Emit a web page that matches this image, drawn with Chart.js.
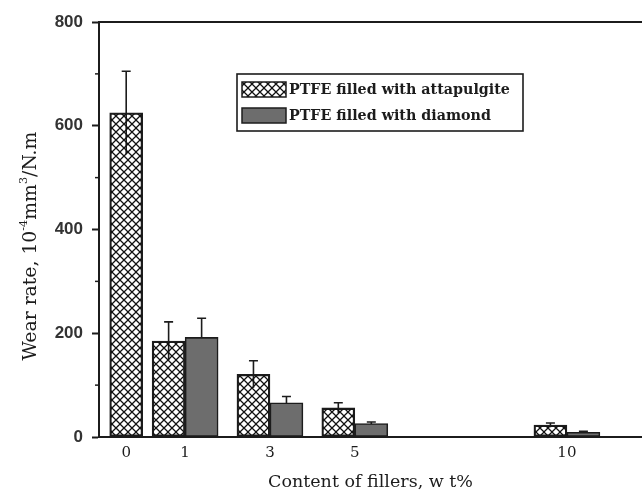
<!DOCTYPE html>
<html>
<head>
<meta charset="utf-8">
<script src="https://cdn.jsdelivr.net/npm/chart.js@4/dist/chart.umd.min.js"></script>
<style>
  html, body { margin: 0; padding: 0; background: #ffffff; }
  #wrap { width: 642px; height: 491px; }
</style>
</head>
<body>
<div id="wrap"><canvas id="c" width="642" height="491"></canvas></div>
<script>
// Filler content (wt%) and measured wear rates (10^-4 mm^3/N.m)
const categories = [0, 1, 3, 5, 10];
const xTickLabels = ['0', '1', '3', '5', '10'];
const attapulgiteWear = [625, 185, 121, 56, 23];
const attapulgiteErr = [80, 37, 26, 10, 4];
const diamondWear = [null, 192, 66, 26, 9];
const diamondErr = [null, 37, 12, 3, 2];
const yMajorTicks = [0, 200, 400, 600, 800];
const yMinorTicks = [100, 300, 500, 700];
const seriesLabels = ['PTFE filled with attapulgite', 'PTFE filled with diamond'];

const INK = '#1c1c1c';
const DIAMOND_GREY = '#6d6d6d';
const SERIF = '"DejaVu Serif", "Liberation Serif", serif';

// Cross-hatch fill (transparent background so whiskers show through)
function makeHatch() {
  const s = 8;
  const pc = document.createElement('canvas');
  pc.width = s; pc.height = s;
  const g = pc.getContext('2d');
  g.strokeStyle = '#111';
  g.lineWidth = 1.25;
  g.beginPath();
  g.moveTo(-1, -1); g.lineTo(s + 1, s + 1);
  g.moveTo(s + 1, -1); g.lineTo(-1, s + 1);
  g.stroke();
  return document.getElementById('c').getContext('2d').createPattern(pc, 'repeat');
}
const hatch = makeHatch();

function toPoints(values) {
  const pts = [];
  categories.forEach((x, i) => { if (values[i] !== null) pts.push({ x: x, y: values[i] }); });
  return pts;
}
function toErrs(values, errs) {
  const out = [];
  categories.forEach((x, i) => { if (values[i] !== null) out.push(errs[i]); });
  return out;
}

// Set a font whose size makes the text span the given width
function fontForWidth(ctx, text, width, weight) {
  ctx.font = weight + ' 20px ' + SERIF;
  const w = ctx.measureText(text).width;
  const size = 20 * width / w;
  ctx.font = weight + ' ' + size.toFixed(2) + 'px ' + SERIF;
  return size;
}

const errorBars = {
  id: 'errorBars',
  beforeDatasetsDraw(chart) {
    const ctx = chart.ctx;
    const y = chart.scales.y;
    ctx.save();
    ctx.strokeStyle = INK;
    ctx.lineWidth = 1.6;
    chart.data.datasets.forEach((ds, di) => {
      const meta = chart.getDatasetMeta(di);
      meta.data.forEach((bar, i) => {
        const v = ds.data[i].y, e = ds.errors[i];
        const top = y.getPixelForValue(v + e);
        const bot = y.getPixelForValue(v - e);
        ctx.beginPath();
        ctx.moveTo(bar.x, bot); ctx.lineTo(bar.x, top);
        ctx.moveTo(bar.x - 4.5, top); ctx.lineTo(bar.x + 4.5, top);
        ctx.stroke();
      });
    });
    ctx.restore();
  }
};

const decorations = {
  id: 'decorations',
  afterDraw(chart) {
    const ctx = chart.ctx;
    const a = chart.chartArea;
    const ys = chart.scales.y;
    ctx.save();

    // top frame line
    ctx.strokeStyle = INK;
    ctx.lineWidth = 2;
    ctx.beginPath();
    ctx.moveTo(a.left - 1, a.top); ctx.lineTo(a.right, a.top);
    ctx.stroke();

    // minor ticks on the value axis
    ctx.lineWidth = 1.5;
    yMinorTicks.forEach(v => {
      const py = ys.getPixelForValue(v);
      ctx.beginPath();
      ctx.moveTo(a.left - 4, py); ctx.lineTo(a.left, py);
      ctx.stroke();
    });

    // category labels centred under each group of bars
    ctx.fillStyle = INK;
    ctx.font = '15px ' + SERIF;
    ctx.textAlign = 'center';
    ctx.textBaseline = 'middle';
    categories.forEach((c, ci) => {
      let lo = Infinity, hi = -Infinity;
      chart.data.datasets.forEach((ds, di) => {
        const meta = chart.getDatasetMeta(di);
        ds.data.forEach((p, i) => {
          if (p.x === c) {
            const b = meta.data[i];
            lo = Math.min(lo, b.x - b.width / 2);
            hi = Math.max(hi, b.x + b.width / 2);
          }
        });
      });
      ctx.fillText(xTickLabels[ci], (lo + hi) / 2, a.bottom + 16);
    });

    // x-axis title
    ctx.textAlign = 'center';
    ctx.textBaseline = 'alphabetic';
    fontForWidth(ctx, 'Content of fillers, w t%', 205, 'normal');
    ctx.fillText('Content of fillers, w t%', (a.left + a.right) / 2, a.bottom + 50);

    // y-axis title with superscripts
    ctx.save();
    ctx.translate(36, 246);
    ctx.rotate(-Math.PI / 2);
    const parts = [
      { t: 'Wear rate, 10', sup: false },
      { t: '-4', sup: true },
      { t: 'mm', sup: false },
      { t: '3', sup: true },
      { t: '/N.m', sup: false }
    ];
    const measure = (fs) => {
      let total = 0;
      parts.forEach(p => {
        ctx.font = (p.sup ? fs * 0.6 : fs).toFixed(2) + 'px ' + SERIF;
        p.w = ctx.measureText(p.t).width;
        total += p.w;
      });
      return total;
    };
    const fs = 17 * 229 / measure(17);
    const total = measure(fs);
    ctx.textAlign = 'left';
    let px = -total / 2;
    parts.forEach(p => {
      ctx.font = (p.sup ? fs * 0.6 : fs).toFixed(2) + 'px ' + SERIF;
      ctx.fillText(p.t, px, p.sup ? -fs * 0.5 : 0);
      px += p.w;
    });
    ctx.restore();

    // legend box
    const lx = 237, ly = 74, lw = 286, lh = 57;
    ctx.fillStyle = '#ffffff';
    ctx.fillRect(lx, ly, lw, lh);
    ctx.strokeStyle = INK;
    ctx.lineWidth = 1.6;
    ctx.strokeRect(lx, ly, lw, lh);
    const rows = [ly + 8, ly + 34];
    const legendSize = (() => {
      ctx.font = 'bold 20px ' + SERIF;
      return 20 * 221 / ctx.measureText(seriesLabels[0]).width;
    })();
    chart.data.datasets.forEach((ds, di) => {
      const sy = rows[di];
      ctx.fillStyle = ds.backgroundColor;
      ctx.fillRect(242, sy, 44, 15);
      ctx.lineWidth = 1.5;
      ctx.strokeRect(242, sy, 44, 15);
      ctx.fillStyle = INK;
      ctx.font = 'bold ' + legendSize.toFixed(2) + 'px ' + SERIF;
      ctx.textAlign = 'left';
      ctx.textBaseline = 'middle';
      ctx.fillText(ds.label, 289, sy + 8);
    });

    ctx.restore();
  }
};

new Chart(document.getElementById('c'), {
  type: 'bar',
  data: {
    datasets: [
      {
        label: seriesLabels[0],
        data: toPoints(attapulgiteWear),
        errors: toErrs(attapulgiteWear, attapulgiteErr),
        backgroundColor: hatch,
        borderColor: INK,
        borderWidth: 1.6,
        borderSkipped: false,
        barThickness: 33
      },
      {
        label: seriesLabels[1],
        data: toPoints(diamondWear),
        errors: toErrs(diamondWear, diamondErr),
        backgroundColor: DIAMOND_GREY,
        borderColor: INK,
        borderWidth: 1.6,
        borderSkipped: false,
        barThickness: 33
      }
    ]
  },
  options: {
    responsive: false,
    animation: false,
    layout: { padding: { top: 22, right: 0, left: 0, bottom: 0 } },
    plugins: { legend: { display: false }, tooltip: { enabled: false } },
    scales: {
      x: {
        type: 'linear',
        min: -1.03,
        max: 11.77,
        offset: false,
        ticks: { display: false },
        grid: { display: true, drawOnChartArea: false, drawTicks: false },
        border: { display: true, color: INK, width: 2 },
        afterFit(s) { s.height = 54; }
      },
      y: {
        min: 0,
        max: 800,
        afterBuildTicks(s) { s.ticks = yMajorTicks.map(v => ({ value: v })); },
        ticks: {
          color: '#333',
          padding: 9,
          font: { family: '"Liberation Sans", Arial, sans-serif', size: 17, weight: 'bold' }
        },
        grid: { display: true, drawOnChartArea: false, drawTicks: true, tickLength: 7, tickColor: INK, tickWidth: 2 },
        border: { display: true, color: INK, width: 2 },
        afterFit(s) { s.width = 99; }
      }
    }
  },
  plugins: [errorBars, decorations]
});
</script>
</body>
</html>
